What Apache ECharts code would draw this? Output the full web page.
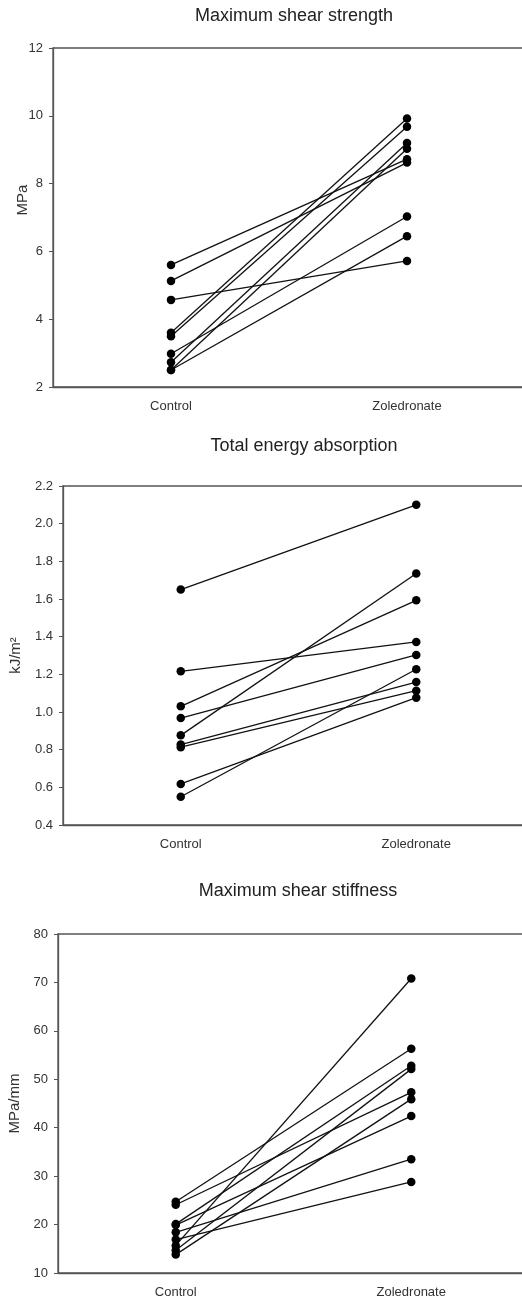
<!DOCTYPE html>
<html>
<head>
<meta charset="utf-8">
<script src="https://cdn.jsdelivr.net/npm/echarts@6/dist/echarts.min.js"></script>
<style>
    html, body { margin: 0; padding: 0; background: #fff; }
    #chart { width: 522px; height: 1302px; }
</style>
</head>
<body>
<div id="chart"></div>
<script>
// paired values, same index = same animal
var groups = ['Control', 'Zoledronate'];

var strengthControl = [5.6, 5.13, 4.57, 3.6, 3.5, 2.98, 2.73, 2.5, 2.5];
var strengthZoledronate = [8.72, 8.62, 5.72, 9.92, 9.68, 7.03, 9.2, 9.03, 6.45];

var energyControl = [1.65, 1.216, 1.03, 0.968, 0.876, 0.827, 0.813, 0.618, 0.55];
var energyZoledronate = [2.10, 1.372, 1.593, 1.303, 1.735, 1.159, 1.113, 1.076, 1.227];

var stiffnessControl = [24.7, 24.1, 20.1, 19.9, 18.4, 16.9, 15.7, 14.7, 13.8];
var stiffnessZoledronate = [56.3, 47.3, 52.8, 42.4, 33.5, 28.8, 70.8, 52.1, 45.9];

var titles = ['Maximum shear strength', 'Total energy absorption', 'Maximum shear stiffness'];
var units = ['MPa', 'kJ/m\u00b2', 'MPa/mm'];

var chart = echarts.init(document.getElementById('chart'));

var font = 'Liberation Sans, Arial, sans-serif';
var axisColor = '#555';
var textColor = '#333';

var grids = [
    { left: 53, top: 48, width: 472, height: 339 },
    { left: 63, top: 486, width: 471, height: 339 },
    { left: 58, top: 934, width: 471, height: 339 }
];
var titlePos = [[289, 2], [299, 432], [293, 877]];
var yRange = [[2, 12, 2], [0.4, 2.2, 0.2], [10, 80, 10]];
var nameGaps = [23, 40, 36];
var namePadding = [[0, 0, 0, 35], 0, 0];
var pairs = [
    [strengthControl, strengthZoledronate],
    [energyControl, energyZoledronate],
    [stiffnessControl, stiffnessZoledronate]
];

var title = [], grid = [], xAxis = [], yAxis = [], series = [];

pairs.forEach(function (pair, k) {
    title.push({
        text: titles[k],
        left: titlePos[k][0],
        top: titlePos[k][1],
        textAlign: 'center',
        textStyle: { fontFamily: font, fontSize: 18, fontWeight: 'normal', color: '#222' }
    });
    grid.push(Object.assign({
        show: true,
        containLabel: false,
        outerBoundsMode: 'none',
        borderColor: axisColor,
        borderWidth: 1.3,
        backgroundColor: 'transparent'
    }, grids[k]));
    xAxis.push({
        type: 'category',
        gridIndex: k,
        data: groups,
        boundaryGap: true,
        axisLine: { lineStyle: { color: axisColor, width: 1.3 } },
        axisTick: { alignWithLabel: true, length: 5, lineStyle: { color: axisColor } },
        axisLabel: { fontFamily: font, fontSize: 13, color: textColor, margin: 13 }
    });
    yAxis.push({
        type: 'value',
        gridIndex: k,
        min: yRange[k][0],
        max: yRange[k][1],
        interval: yRange[k][2],
        name: units[k],
        nameLocation: 'middle',
        nameGap: nameGaps[k],
        nameMoveOverlap: false,
        nameTextStyle: { fontFamily: font, fontSize: 15, color: textColor, padding: namePadding[k] },
        splitLine: { show: false },
        axisLine: { show: true, lineStyle: { color: axisColor, width: 1.3 } },
        axisTick: { show: true, length: 4, lineStyle: { color: axisColor } },
        axisLabel: {
            fontFamily: font, fontSize: 13, color: textColor, margin: 10,
            formatter: k === 1 ? function (v) { return v.toFixed(1); } : null
        }
    });
    pair[0].forEach(function (c, i) {
        series.push({
            type: 'line',
            xAxisIndex: k,
            yAxisIndex: k,
            data: [c, pair[1][i]],
            symbol: 'circle',
            symbolSize: 8.5,
            itemStyle: { color: '#000' },
            lineStyle: { color: '#111', width: 1.3 },
            silent: true,
            animation: false
        });
    });
});

chart.setOption({
    animation: false,
    title: title,
    grid: grid,
    xAxis: xAxis,
    yAxis: yAxis,
    series: series
});
</script>
</body>
</html>
